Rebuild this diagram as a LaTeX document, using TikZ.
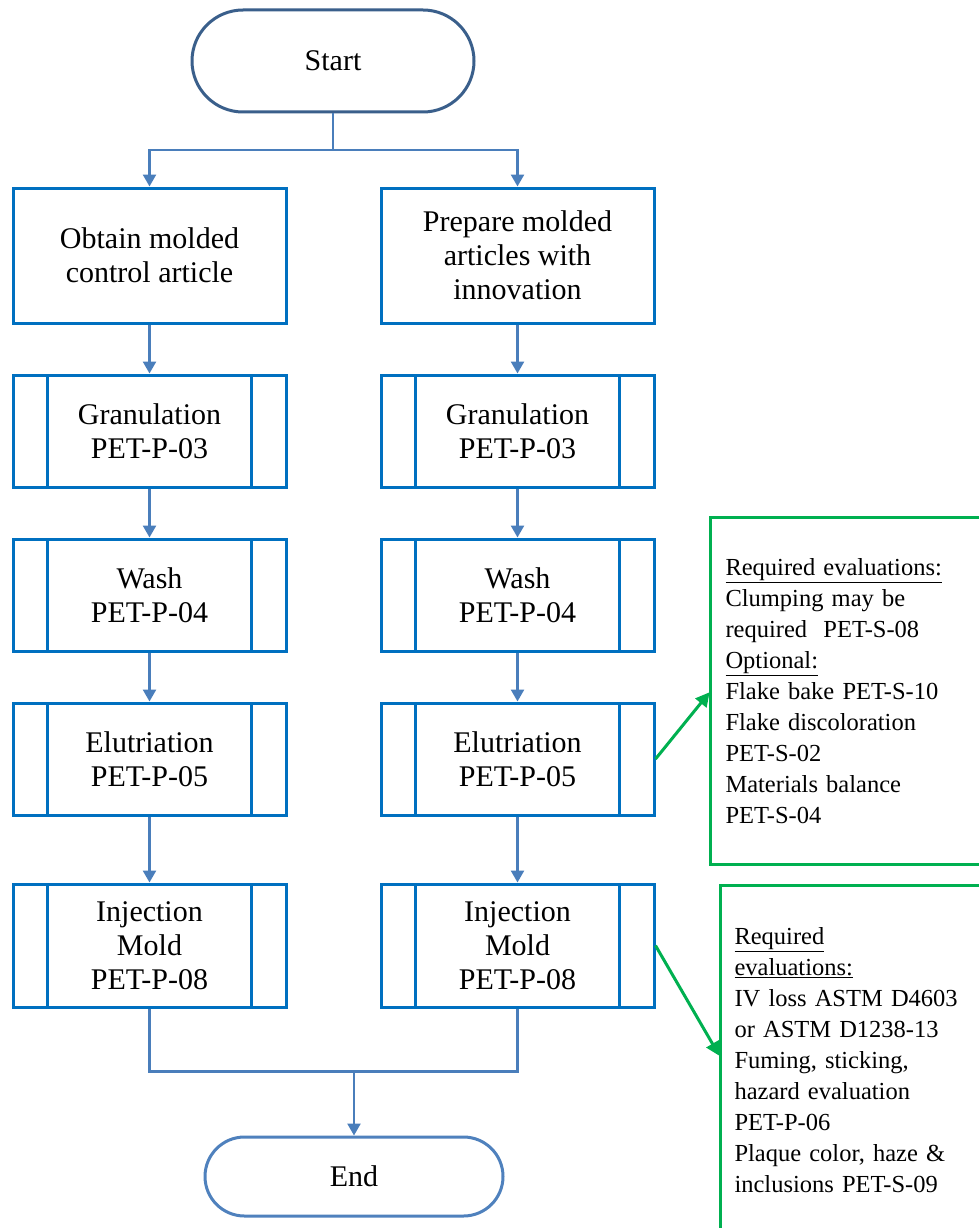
\documentclass[tikz,border=0pt]{standalone}
\usepackage{fontspec}
\setmainfont{Liberation Serif}
\usetikzlibrary{arrows.meta,calc}
\definecolor{boxblue}{HTML}{0070C0}
\definecolor{lineblue}{HTML}{4A7EBB}
\definecolor{startcol}{HTML}{3A5F8B}
\definecolor{endcol}{HTML}{4F81BD}
\definecolor{ggreen}{HTML}{00B050}
\newcommand{\bxf}{\fontsize{30}{34}\selectfont}
\newcommand{\cof}{\fontsize{24.5}{31}\selectfont}
\begin{document}
\begin{tikzpicture}[x=1pt,y=-1pt,
  proc/.style={draw=boxblue, line width=3pt, minimum width=273pt, align=center, font=\bxf, inner sep=0pt},
  pproc/.style={proc, path picture={
      \draw[boxblue, line width=3pt] ([xshift=34pt]path picture bounding box.north west) -- ([xshift=34pt]path picture bounding box.south west);
      \draw[boxblue, line width=3pt] ([xshift=-35pt]path picture bounding box.north east) -- ([xshift=-35pt]path picture bounding box.south east);}},
  term/.style={line width=3pt, font=\bxf, inner sep=0pt},
  conn/.style={draw=lineblue, line width=2.5pt},
  arr/.style={conn, -{Triangle[length=12pt,width=13pt]}},
  callout/.style={draw=ggreen, line width=3pt, text width=245pt, align=left, font=\cof, anchor=north west},
  garr/.style={draw=ggreen, line width=3pt, -{Triangle[length=14pt,width=14pt]}, shorten >=-1pt}
]
\useasboundingbox (0,0) rectangle (979,1228);
\clip (0,0) rectangle (979,1228);
\fill[white] (0,0) rectangle (979,1228);

% terminators
\node[term, draw=startcol, minimum width=282pt, minimum height=102pt, rounded corners=51pt] (start) at (333,61) {Start};
\node[term, draw=endcol, minimum width=298pt, minimum height=79pt, rounded corners=39.5pt] (end) at (354,1176.5) {End};

% left column
\node[proc, minimum height=135pt] (l1) at (149.5,255.5) {Obtain molded\\control article};
\node[pproc, minimum height=112pt] (l2) at (149.5,431) {Granulation\\PET-P-03};
\node[pproc, minimum height=112pt] (l3) at (149.5,595) {Wash\\PET-P-04};
\node[pproc, minimum height=112pt] (l4) at (149.5,759) {Elutriation\\PET-P-05};
\node[pproc, minimum height=123pt] (l5) at (149.5,945.5) {Injection\\Mold\\PET-P-08};

% right column
\node[proc, minimum height=135pt] (r1) at (517.5,255.5) {Prepare molded\\articles with\\innovation};
\node[pproc, minimum height=112pt] (r2) at (517.5,431) {Granulation\\PET-P-03};
\node[pproc, minimum height=112pt] (r3) at (517.5,595) {Wash\\PET-P-04};
\node[pproc, minimum height=112pt] (r4) at (517.5,759) {Elutriation\\PET-P-05};
\node[pproc, minimum height=123pt] (r5) at (517.5,945.5) {Injection\\Mold\\PET-P-08};

% callouts
\node[callout, inner xsep=15pt, minimum height=347pt] (c1) at (709,516)
  {\underline{Required evaluations:}\\Clumping may be\\required\ \ PET-S-08\\\underline{Optional:}\\Flake bake PET-S-10\\Flake discoloration\\PET-S-02\\Materials balance\\PET-S-04};
\node[callout, inner xsep=14pt, minimum height=350pt] (c2) at (719,884)
  {\underline{Required}\\\underline{evaluations:}\\IV loss ASTM D4603\\or ASTM D1238-13\\Fuming, sticking,\\hazard evaluation\\PET-P-06\\Plaque color, haze \&\\inclusions PET-S-09};

% connectors
\coordinate (split) at (333,150);
\draw[conn] (start.south) -- (split);
\draw[arr] (split) -| (l1.north);
\draw[arr] (split) -| (r1.north);
\draw[arr] (l1) -- (l2);
\draw[arr] (l2) -- (l3);
\draw[arr] (l3) -- (l4);
\draw[arr] (l4) -- (l5);
\draw[arr] (r1) -- (r2);
\draw[arr] (r2) -- (r3);
\draw[arr] (r3) -- (r4);
\draw[arr] (r4) -- (r5);
\coordinate (merge) at (354,1070);
\draw[conn] (l5.south) -- ++(0,63) -| (r5.south);
\draw[arr] (merge) -- (end.north);

\draw[garr] (r4.east) -- ([yshift=-177pt]c1.north west);
\draw[garr] (r5.east) -- ([yshift=-171pt]c2.north west);
\end{tikzpicture}
\end{document}
